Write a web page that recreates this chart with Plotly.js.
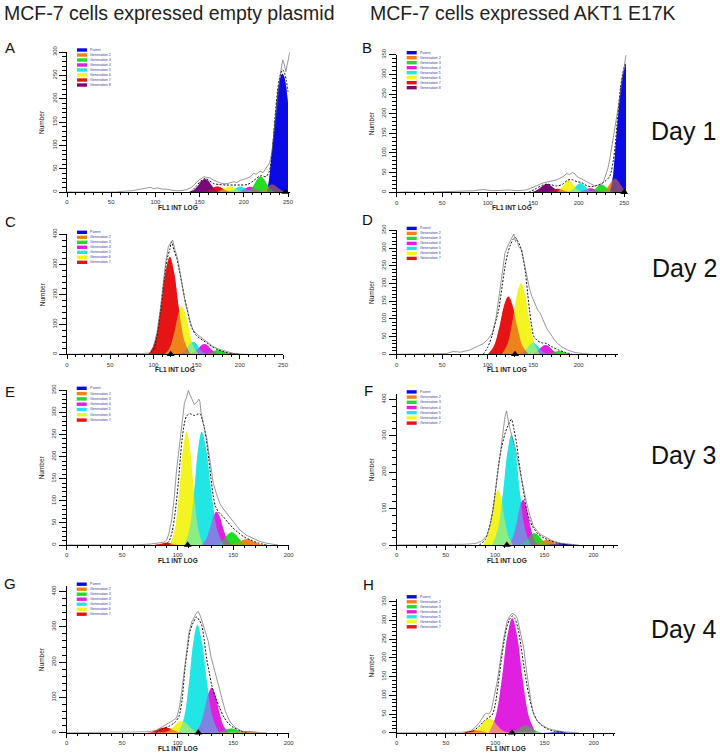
<!DOCTYPE html>
<html>
<head>
<meta charset="utf-8">
<script src="https://cdn.plot.ly/plotly-3.0.1.min.js"></script>
<style>html,body{margin:0;padding:0;background:#fff;}#chart{width:720px;height:753px;}</style>
</head>
<body>
<div id="chart"></div>
<script>
// ---------------- DATA ----------------
const NAMES8 = ['Parent','Generation 2','Generation 3','Generation 4','Generation 5','Generation 6','Generation 7','Generation 8'];
const NAMES7 = NAMES8.slice(0, 7);

const columnTitles = ['MCF-7 cells expressed empty plasmid', 'MCF-7 cells expressed AKT1 E17K'];
const dayLabels = ['Day 1', 'Day 2', 'Day 3', 'Day 4'];
const panelLetters = ['A','B','C','D','E','F','G','H'];

// modelled generation peaks: [name, x values, counts]
const peaksA = [
  ['Generation 8', [137.8,143,148.2,152.1,156,159.9,163.8,169,174.2], [0,3.8,13.6,23.4,28,23.4,13.6,3.8,0]],
  ['Generation 7', [153.2,158,162.8,166.4,170,173.6,177.2,182,186.8], [0,1.6,5.8,10,12,10,5.8,1.6,0]],
  ['Generation 6', [167.2,172,176.8,180.4,184,187.6,191.2,196,200.8], [0,1.6,5.8,10,12,10,5.8,1.6,0]],
  ['Generation 5', [179.2,184,188.8,192.4,196,199.6,203.2,208,212.8], [0,1.5,5.4,9.2,11,9.2,5.4,1.5,0]],
  ['Generation 4', [190.2,195,199.8,203.4,207,210.6,214.2,219,223.8], [0,1.5,5.4,9.2,11,9.2,5.4,1.5,0]],
  ['Generation 3', [202.2,207,211.8,215.4,219,222.6,226.2,231,235.8], [0,4.5,16,27.6,33,27.6,16,4.5,0]],
  ['Generation 2', [215.2,220,224.8,228.4,232,235.6,239.2,244,248.8], [0,2.2,7.8,13.4,16,13.4,7.8,2.2,0]],
  ['Parent', [226,228,230,232,234,236,238,240,242,244,246,248,250,250], [0,18,50,90,130,175,212,236,250,254,246,225,190,0]]
];
const peaksB = [
  ['Generation 8', [146.8,152,157.2,161.1,165,168.9,172.8,178,183.2], [0,2.8,10.2,17.5,21,17.5,10.2,2.8,0]],
  ['Generation 7', [161.6,166,170.4,173.7,177,180.3,183.6,188,192.4], [0,1.2,4.4,7.5,9,7.5,4.4,1.2,0]],
  ['Generation 6', [173.6,178,182.4,185.7,189,192.3,195.6,200,204.4], [0,4,14.6,25,30,25,14.6,4,0]],
  ['Generation 5', [186.6,191,195.4,198.7,202,205.3,208.6,213,217.4], [0,3.1,11.2,19.2,23,19.2,11.2,3.1,0]],
  ['Generation 4', [197.6,202,206.4,209.7,213,216.3,219.6,224,228.4], [0,1.4,4.9,8.4,10,8.4,4.9,1.4,0]],
  ['Generation 3', [209.6,214,218.4,221.7,225,228.3,231.6,236,240.4], [0,2.6,9.3,15.9,19,15.9,9.3,2.6,0]],
  ['Generation 2', [224.6,229,233.4,236.7,240,243.3,246.6,251,255.4], [0,4.7,17,29.2,35,29.2,17,4.7,0]],
  ['Parent', [234,236,238,240,242,244,246,248,250,252,252], [0,15,45,100,165,220,265,295,315,328,0]]
];
const peaksC = [
  ['Generation 7', [95.2,102,108.8,113.9,119,124.1,129.2,136,142.8], [0,43.9,158,271,325,271,158,43.9,0]],
  ['Generation 6', [113.4,119,124.6,128.8,133,137.2,141.4,147,152.6], [0,21.5,77.4,132.8,159,132.8,77.4,21.5,0]],
  ['Generation 5', [129.2,134,138.8,142.4,146,149.6,153.2,158,162.8], [0,5.7,20.5,35,42,35,20.5,5.7,0]],
  ['Generation 4', [140.8,146,151.2,155.1,159,162.9,166.8,172,177.2], [0,4.6,16.6,28.4,34,28.4,16.6,4.6,0]],
  ['Generation 3', [156.8,162,167.2,171.1,175,178.9,182.8,188,193.2], [0,1.9,6.8,11.7,14,11.7,6.8,1.9,0]],
  ['Generation 2', [173.2,178,182.8,186.4,190,193.6,197.2,202,206.8], [0,0.5,1.9,3.3,4,3.3,1.9,0.5,0]]
];
const peaksD = [
  ['Generation 7', [100.3,106.7,113.1,117.9,122.7,127.5,132.3,138.7,145.1], [0,22,79.4,136,163,136,79.4,22,0]],
  ['Generation 6', [115.6,121.6,127.6,132.1,136.6,141.1,145.6,151.6,157.6], [0,27,97.4,167,200,167,97.4,27,0]],
  ['Generation 5', [133.2,138,142.8,146.4,150,153.6,157.2,162,166.8], [0,4.3,15.6,26.7,32,26.7,15.6,4.3,0]],
  ['Generation 4', [146.7,151.5,156.3,159.9,163.5,167.1,170.7,175.5,180.3], [0,3.5,12.7,21.7,26,21.7,12.7,3.5,0]],
  ['Generation 3', [161.2,166,170.8,174.4,178,181.6,185.2,190,194.8], [0,1.2,4.4,7.5,9,7.5,4.4,1.2,0]]
];
const peaksE = [
  ['Generation 7', [76,80,84,87,90,93,96,100,104], [0,0.7,2.4,4.2,5,4.2,2.4,0.7,0]],
  ['Generation 6', [93.2,97.4,101.6,104.8,108,111.2,114.4,118.6,122.8], [0,34.6,124.7,213.8,256,213.8,124.7,34.6,0]],
  ['Generation 5', [106.2,110.6,115,118.3,121.6,125.8,130,135.6,141.2], [0,34.6,124.7,213.8,256,213.8,124.7,34.6,0]],
  ['Generation 4', [121,125,129,132,135,138,141,145,149], [0,10.1,36.5,62.6,75,62.6,36.5,10.1,0]],
  ['Generation 3', [133.2,137.6,142,145.3,148.6,151.9,155.2,159.6,164], [0,3.9,14.1,24.2,29,24.2,14.1,3.9,0]],
  ['Generation 2', [145.2,150,154.8,158.4,162,165.6,169.2,174,178.8], [0,1.8,6.3,10.9,13,10.9,6.3,1.8,0]]
];
const peaksF = [
  ['Generation 6', [87.6,92,96.4,99.7,103,106.3,109.6,114,118.4], [0,20.4,73.5,126,151,126,73.5,20.4,0]],
  ['Generation 5', [97.1,102.7,108.3,112.5,116.7,120.9,125.1,130.7,136.3], [0,40.8,147,252,302,252,147,40.8,0]],
  ['Generation 4', [113.1,117.5,121.9,125.2,128.5,131.8,135.1,139.5,143.9], [0,16.7,60.4,103.5,124,103.5,60.4,16.7,0]],
  ['Generation 3', [123.2,128,132.8,136.4,140,143.6,147.2,152,156.8], [0,4.3,15.6,26.7,32,26.7,15.6,4.3,0]],
  ['Generation 2', [136.2,141,145.8,149.4,153,156.6,160.2,165,169.8], [0,1.9,6.8,11.7,14,11.7,6.8,1.9,0]],
  ['Parent', [149.2,154,158.8,162.4,166,169.6,173.2,178,182.8], [0,0.5,2,3.4,4,3.4,2,0.5,0]]
];
const peaksG = [
  ['Generation 7', [71.8,76.6,81.4,85,88.6,92.2,95.8,100.6,105.4], [0,2,7.3,12.5,15,12.5,7.3,2,0]],
  ['Generation 6', [86.8,91.6,96.4,100,103.6,107.2,110.8,115.6,120.4], [0,4.6,16.6,28.4,34,28.4,16.6,4.6,0]],
  ['Generation 5', [100.9,105.7,110.5,114.1,117.7,121.9,126.1,131.7,137.3], [0,41.2,148.5,254.7,305,254.7,148.5,41.2,0]],
  ['Generation 4', [115.2,119.6,124,127.3,130.6,133.9,137.2,141.6,146], [0,17.1,61.8,106,127,106,61.8,17.1,0]],
  ['Generation 3', [132.6,137,141.4,144.7,148,151.3,154.6,159,163.4], [0,1.6,5.8,10,12,10,5.8,1.6,0]],
  ['Generation 2', [145.2,150,154.8,158.4,162,165.6,169.2,174,178.8], [0,0.7,2.4,4.2,5,4.2,2.4,0.7,0]]
];
const peaksH = [
  ['Generation 7', [63.2,68,72.8,76.4,80,83.6,87.2,92,96.8], [0,0.8,2.9,5,6,5,2.9,0.8,0]],
  ['Generation 6', [74.4,80,85.6,89.8,94,98.2,102.4,108,113.6], [0,5.1,18.5,31.7,38,31.7,18.5,5.1,0]],
  ['Generation 4', [93.5,100.3,107.1,112.2,117.3,122.4,127.5,134.3,141.1], [0,41.3,149,255.5,306,255.5,149,41.3,0]],
  ['Generation 3', [114.2,119,123.8,127.4,131,134.6,138.2,143,147.8], [0,2.7,9.7,16.7,20,16.7,9.7,2.7,0]],
  ['Parent', [148.2,153,157.8,161.4,165,168.6,172.2,177,181.8], [0,0.4,1.5,2.5,3,2.5,1.5,0.4,0]]
];

// raw histogram (grey line)
const rawAx = [0,20,40,55,67,75,83,90,94,98,102,108,113,118,124,130,135,140,144,147,151,155,158,162,166,170,174,178,181,185,189,192,196,200,204,208,211,214,218,222,226,229,231.6,233,235,237,239,241,242.6,244,245.5,247.6,249,250.5,252];
const rawAy = [0,0,1,0,2,3,6,8,10,7,9,6,6,4,2.5,3,5,9,15,22,28,33,31,30,25,22,19,18,18,20,22,20,25,27,30,33,40,38,44,42,54,62,83,110,147,185,226,250,268,283,275,258,272,283,300];
const rawBx = [0,10,30,50,70,85,95,100,106,115,124,133,142,147,152,157,161,166,170,175,179,183,187,190,193,196,198,202,205,209,212,215,218,221,224,227,229,232,234,236,238,240,242,244,246,248,250,252];
const rawBy = [0,1,0,1,2,4,7,5,4,5,6,4,6,10,14,20,24,26,29,31,35,40,48,45,50,47,40,36,31,27,23,19,16,18,19,25,40,60,82,110,141,175,201,230,252,290,315,349];
const rawCx = [0,40,60,76,85,96,100,104,108,111.5,114,117.3,120,122.3,125,127,129,132,134.7,137,140.5,143,146,150,154,158,162,166,169,175,181,187,192.5,200,210];
const rawCy = [0,0,2,3,2,5,25,71,150,237,300,359,372,381,347,330,304,255,214,170,136,105,81,68,59,50,42,33,26,18,12,7,3,1,0];
const rawDx = [0,40,55,62,70,80,87,95,100,105,109,112,116,119,122,125,127,128.7,130.5,132,134,137.6,140,143,146,148.6,152,155,157.8,162,165,168.8,173,177,181.6,188,196,205,214];
const rawDy = [0,0,2,8,6,12,20,30,42,59,100,153,230,285,305,322,335,340,318,325,305,293,260,219,185,163,140,125,116,90,72,59,42,30,21,12,5,2,0];
const rawEx = [0,60,75,80,84,87,90,92,94.6,97,99,101,102,104,106,108,109.6,111,113,115,117,119,120,121,123,124.5,126,128,130,132,135,138,141,144,147,151,156,162,168,174,180,190];
const rawEy = [0,0,2,3,4,6,11,25,57,110,170,215,245,280,320,335,350,340,330,318,322,330,325,300,275,260,245,210,178,140,115,94,82,72,64,50,34,22,15,8,4,0];
const rawFx = [0,50,70,80,86,91.5,95,98,100.5,103,105.5,108,110,111.7,113,114.8,117,120,122.5,125,128,132,135.5,139,143,147,152.6,158,166,175,185];
const rawFy = [0,0,2,4,10,25,55,98,150,208,265,318,350,368,345,323,300,272,240,208,165,116,80,52,38,28,20,12,5,2,0];
const rawGx = [0,50,65,74,80,84,88,93,96,99,101.5,103.6,106,108,110,112.6,115,117,118.6,120.5,123,125,127.6,130,133.6,136.5,139.6,143,147,152,159,168,180];
const rawGy = [0,0,2,3,6,13,20,28,35,42,70,116,175,230,280,314,330,340,343,330,305,285,258,215,173,135,97,60,31,14,3,1,0];
const rawHx = [0,50,65,72,75,78,81.6,84,86.7,89,91,93.5,96,99,102,105,107,109.5,112,114.5,117.3,120,122.4,125,129,131.5,134,136.5,139,143,147.6,153,159,170,185];
const rawHy = [0,0,1,3,5,10,20,27,38,48,52,50,60,100,136,190,226,265,297,310,319,315,306,275,226,170,119,80,48,30,20,12,7,2,0];

// model sum (dashed black line)
const envAx = [140,146,151,156,161,166,172,180,188,196,204,211,216,220,225,229,232,234,236,238,240,242,244,246,248,250];
const envAy = [0,12,23,29,24,18,16,15,15,15,16,24,32,35,33,45,85,130,175,215,240,255,262,255,240,215];
const envBx = [145,152,160,165,170,176,182,188,193,198,203,208,214,219,225,230,234,236,238,240,242,244,246,248,250,252];
const envBy = [0,8,18,21,19,16,20,31,32,27,25,18,14,17,22,30,40,55,80,115,168,222,266,296,318,330];
const envCx = [94,100,104,108,112,116,119,121,124,127,130,133,136,139,142,145,149,153,158,163,168,175,183,192,200];
const envCy = [0,15,60,140,240,320,350,375,345,320,280,235,190,150,112,85,65,55,45,36,25,15,7,2,0];
const envDx = [95,100,105,109,112,116,119,122,125,128,130.5,133,136,139,141.6,144,146,148,150.8,155,160,164,170,178,186,193];
const envDy = [0,20,54,95,125,195,247,285,309,325,330,320,304,270,229,170,125,85,50,38,32,31,22,12,5,0];
const envEx = [88,92,95,98,100.5,102.5,104,106,108,111,115,118,120,122,124,126,128,130,132,134,137,141,145,150,155,160,166,172,180];
const envEy = [0,8,30,80,140,200,240,275,292,297,293,296,297,285,265,235,195,150,112,88,74,64,52,38,27,18,11,5,0];
const envFx = [84,90,96,100,103,106,110,113,116.7,119,121.8,124,127,130,132,135,139,144,150,156,163,172,180];
const envFy = [0,15,70,140,208,260,305,327,345,320,281,235,180,130,98,70,47,30,19,12,6,2,0];
const envGx = [80,86,92,97,101,104,106.6,109,111,114,117,119.5,121.6,124,126,128.5,130.6,134,138,142,146,150,156,162];
const envGy = [0,10,18,28,45,95,184,240,286,312,328,318,305,260,211,170,135,100,69,42,25,15,6,0];
const envHx = [70,78,84,89,93,97,100,103,106,109,112,115,117.3,120,123,126,129,132,135,138,142,147,153,160,170];
const envHy = [0,6,18,32,40,48,75,130,190,245,285,305,312,305,280,235,180,130,90,60,35,20,10,4,0];

// parent-position marker (triangle on the axis)
const markerX = [247, 250, 120, 130, 109, 112, 118.6, 117];

// ---------------- STYLE / GEOMETRY ----------------
const W = 720, H = 753;
const COLORS = {
  'Parent': '#0a0ae6', 'Generation 2': '#f08020', 'Generation 3': '#22dd22', 'Generation 4': '#e020e0',
  'Generation 5': '#22e6e6', 'Generation 6': '#f4f422', 'Generation 7': '#e61414', 'Generation 8': '#780a78'
};
function rgba(hex, a) {
  const n = parseInt(hex.slice(1), 16);
  return 'rgba(' + ((n >> 16) & 255) + ',' + ((n >> 8) & 255) + ',' + (n & 255) + ',' + a + ')';
}
const panels = [
  {peaks: peaksA, rx: rawAx, ry: rawAy, ex: envAx, ey: envAy, names: NAMES8, left: 67, right: 289.8, top: 52, bottom: 192, xr: [0,252], yr: [0,300], ydt: 50, ymin: 10, step: 5.0, linParent: true},
  {peaks: peaksB, rx: rawBx, ry: rawBy, ex: envBx, ey: envBy, names: NAMES8, left: 396.7, right: 626.9, top: 54.7, bottom: 192.3, xr: [0,253], yr: [0,350], ydt: 50, ymin: 10, step: 5.0, linParent: true},
  {peaks: peaksC, rx: rawCx, ry: rawCy, ex: envCx, ey: envCy, names: NAMES7, left: 67, right: 283, top: 234.3, bottom: 354.3, xr: [0,250], yr: [0,400], ydt: 100, ymin: 20, step: 5.0},
  {peaks: peaksD, rx: rawDx, ry: rawDy, ex: envDx, ey: envDy, names: NAMES7, left: 396.7, right: 617.8, top: 230.4, bottom: 354.3, xr: [0,243], yr: [0,350], ydt: 50, ymin: 10, step: 5.0},
  {peaks: peaksE, rx: rawEx, ry: rawEy, ex: envEx, ey: envEy, names: NAMES7, left: 66.7, right: 288.7, top: 390.3, bottom: 545, xr: [0,200], yr: [0,350], ydt: 50, ymin: 10, step: 5.3},
  {peaks: peaksF, rx: rawFx, ry: rawFy, ex: envFx, ey: envFy, names: NAMES7, left: 396.7, right: 618, top: 393.9, bottom: 545, xr: [0,225], yr: [0,415], ydt: 100, ymin: 20, step: 5.2},
  {peaks: peaksG, rx: rawGx, ry: rawGy, ex: envGx, ey: envGy, names: NAMES7, left: 66.7, right: 288.7, top: 586.2, bottom: 732.7, xr: [0,200], yr: [0,415], ydt: 100, ymin: 20, step: 5.0},
  {peaks: peaksH, rx: rawHx, ry: rawHy, ex: envHx, ey: envHy, names: NAMES7, left: 396.7, right: 615.4, top: 598.8, bottom: 732.7, xr: [0,222], yr: [0,358], ydt: 50, ymin: 10, step: 5.0}
];
const letterPos = [[10,48],[367,48],[10,222],[367,220],[10,391],[368,390],[10,583],[368,584]];
const dayPos = [[683,131],[684,268],[683,455],[683,629]];
const titlePos = [[2,13],[368,13]];

const FONT = 'Liberation Sans, Arial, sans-serif';
const px = v => v / W, py = v => 1 - v / H;

const traces = [];
const layout = {
  width: W, height: H, margin: {l: 0, r: 0, t: 0, b: 0},
  paper_bgcolor: '#fff', plot_bgcolor: '#fff', showlegend: false,
  font: {family: FONT, color: '#333'},
  annotations: [], shapes: []
};

panels.forEach((p, i) => {
  const s = i === 0 ? '' : String(i + 1);
  const xa = 'x' + s, ya = 'y' + s;
  const shapeOf = pk => (pk[0] === 'Parent' && p.linParent) ? 'linear' : 'spline';
  // pass 1: opaque fills
  p.peaks.forEach(pk => {
    traces.push({type: 'scatter', mode: 'lines', x: pk[1], y: pk[2], xaxis: xa, yaxis: ya,
      line: {width: 0, shape: shapeOf(pk), smoothing: 1},
      fill: 'tozeroy', fillcolor: COLORS[pk[0]], hoverinfo: 'skip'});
  });
  // pass 2: translucent fills in reverse order -> overlaps show blended colours
  p.peaks.slice().reverse().forEach(pk => {
    traces.push({type: 'scatter', mode: 'lines', x: pk[1], y: pk[2], xaxis: xa, yaxis: ya,
      line: {width: 0, shape: shapeOf(pk), smoothing: 1},
      fill: 'tozeroy', fillcolor: rgba(COLORS[pk[0]], 0.5), hoverinfo: 'skip'});
  });
  traces.push({type: 'scatter', mode: 'lines', x: p.ex, y: p.ey, xaxis: xa, yaxis: ya,
    line: {color: '#111', width: 1, dash: '2px,1.6px', shape: 'spline', smoothing: 0.8}, hoverinfo: 'skip'});
  traces.push({type: 'scatter', mode: 'lines', x: p.rx, y: p.ry, xaxis: xa, yaxis: ya,
    line: {color: '#6a6a6a', width: 0.7}, hoverinfo: 'skip'});
  traces.push({type: 'scatter', mode: 'markers', x: [markerX[i]], y: [0], xaxis: xa, yaxis: ya,
    marker: {symbol: 'triangle-up', size: 7, color: '#000'}, cliponaxis: false, hoverinfo: 'skip'});

  layout['xaxis' + s] = {
    domain: [px(p.left), px(p.right)], range: p.xr, anchor: ya,
    showline: true, linecolor: '#000', linewidth: 1, showgrid: false, zeroline: false,
    ticks: 'outside', ticklen: 4, tickwidth: 1, tickcolor: '#000', tick0: 0, dtick: 50,
    minor: {ticks: 'outside', ticklen: 2, tickcolor: '#000', dtick: 10, tick0: 0},
    tickfont: {size: 6, color: '#333', family: FONT}, fixedrange: true
  };
  layout['yaxis' + s] = {
    domain: [py(p.bottom), py(p.top)], range: p.yr, anchor: xa,
    showline: true, linecolor: '#000', linewidth: 1, showgrid: false, zeroline: false,
    ticks: 'outside', ticklen: 7, tickwidth: 1, tickcolor: '#000', tick0: 0, dtick: p.ydt,
    minor: {ticks: 'outside', ticklen: 4, tickcolor: '#000', dtick: p.ymin, tick0: 0},
    tickangle: -90, tickfont: {size: 6, color: '#333', family: FONT}, fixedrange: true
  };

  // axis titles
  layout.annotations.push({xref: 'paper', yref: 'paper', x: px((p.left + p.right) / 2), y: py(p.bottom + 15.5),
    text: '<b>FL1 INT LOG</b>', showarrow: false, xanchor: 'center', yanchor: 'middle', borderpad: 0,
    font: {size: 6.5, color: '#222', family: FONT}});
  layout.annotations.push({xref: 'paper', yref: 'paper', x: px(p.left - 25), y: py((p.top + p.bottom) / 2),
    text: 'Number', textangle: -90, showarrow: false, xanchor: 'center', yanchor: 'middle', borderpad: 0,
    font: {size: 6.5, color: '#222', family: FONT}});

  // legend (coloured boxes + labels)
  p.names.forEach((nm, k) => {
    const yc = p.top - 2 + k * p.step;
    layout.shapes.push({type: 'rect', xref: 'paper', yref: 'paper',
      x0: px(p.left + 10), x1: px(p.left + 20), y0: py(yc + 1.7), y1: py(yc - 1.7),
      fillcolor: COLORS[nm], line: {width: 0}});
    layout.annotations.push({xref: 'paper', yref: 'paper', x: px(p.left + 22), y: py(yc),
      text: nm, showarrow: false, xanchor: 'left', yanchor: 'middle', borderpad: 0,
      font: {size: 3.6, color: '#3a3a9e', family: FONT}});
  });

  layout.annotations.push({xref: 'paper', yref: 'paper', x: px(letterPos[i][0]), y: py(letterPos[i][1]),
    text: panelLetters[i], showarrow: false, xanchor: 'center', yanchor: 'middle',
    font: {size: 15, color: '#111', family: FONT}});
});

columnTitles.forEach((t, k) => {
  layout.annotations.push({xref: 'paper', yref: 'paper', x: px(titlePos[k][0]), y: py(titlePos[k][1]),
    text: t, showarrow: false, xanchor: 'left', yanchor: 'middle',
    font: {size: 19.5, color: '#222', family: FONT}});
});
dayLabels.forEach((t, k) => {
  layout.annotations.push({xref: 'paper', yref: 'paper', x: px(dayPos[k][0]), y: py(dayPos[k][1]),
    text: t, showarrow: false, xanchor: 'center', yanchor: 'middle',
    font: {size: 25, color: '#111', family: FONT}});
});

Plotly.newPlot('chart', traces, layout, {staticPlot: true, displayModeBar: false});
</script>
</body>
</html>
